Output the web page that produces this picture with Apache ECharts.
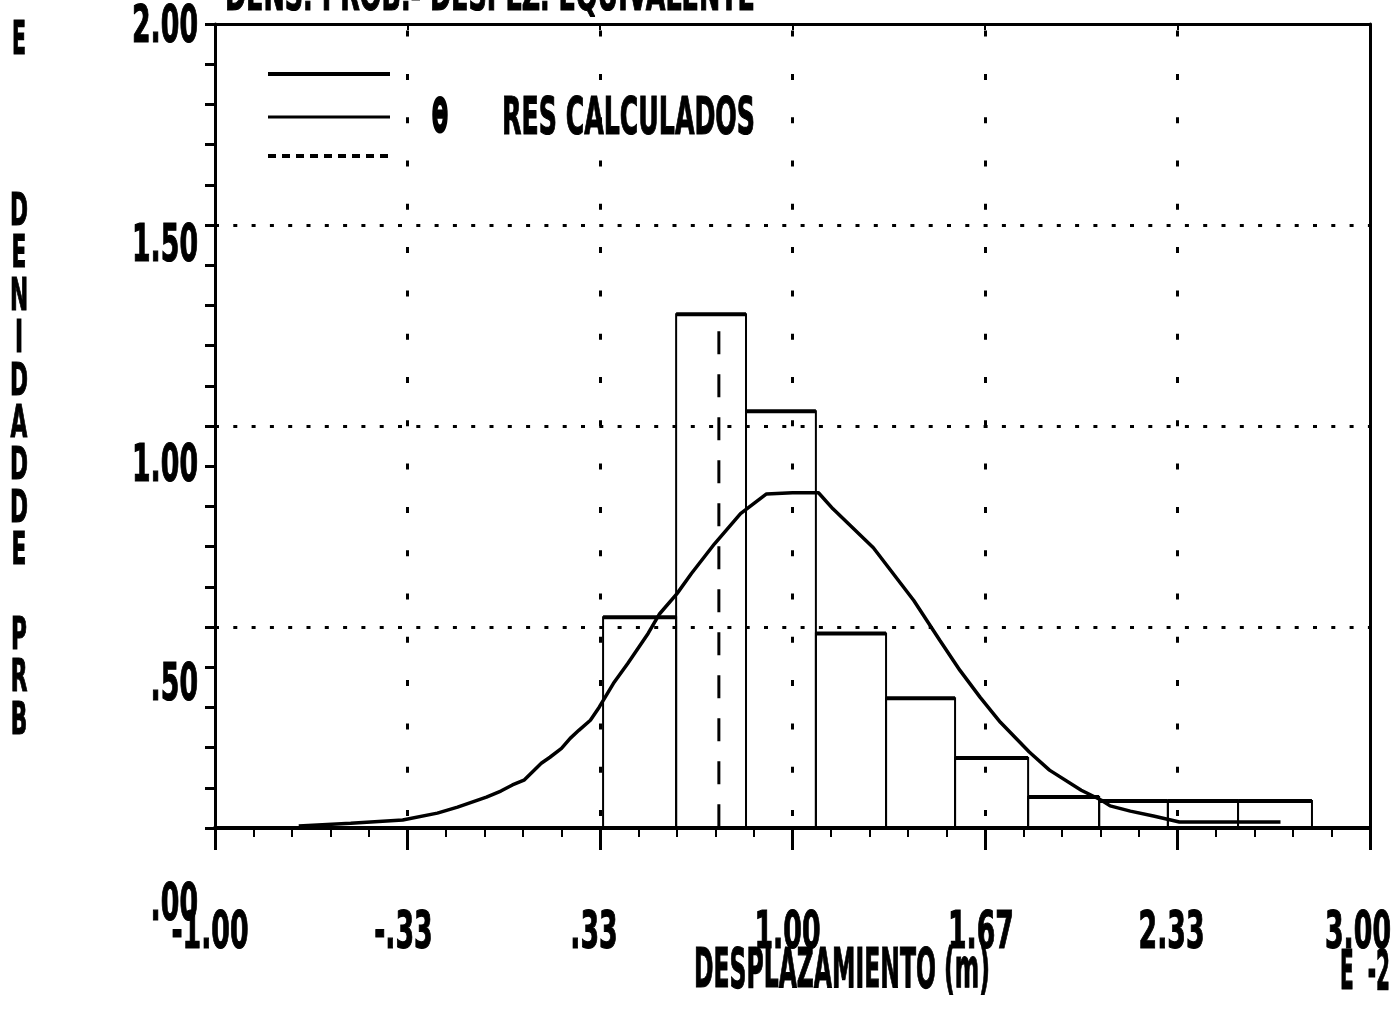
<!DOCTYPE html>
<html>
<head>
<meta charset="utf-8">
<title>Densidad de probabilidad - desplazamiento</title>
<script src="https://cdn.jsdelivr.net/npm/echarts@6.0.0/dist/echarts.min.js"></script>
<style>
  html, body { margin: 0; padding: 0; background: #fff; }
  #main { width: 1394px; height: 1014px; }
</style>
</head>
<body>
<div id="main"></div>
<script>
// histograma: bordes de clase (E-2 m) y alturas
var binEdges = [0.344, 0.597, 0.839, 1.081, 1.324, 1.563, 1.816, 2.062, 2.300, 2.543, 2.799];
var binHeights = [0.524, 1.278, 1.037, 0.484, 0.323, 0.174, 0.077, 0.067, 0.067, 0.067];

// curva de densidad
var curveX = [-0.71, -0.53, -0.35, -0.23, -0.16, -0.06, -0.01, 0.03, 0.07, 0.13, 0.16, 0.20, 0.23, 0.26,
  0.30, 0.33, 0.38, 0.43, 0.50, 0.54, 0.60, 0.65, 0.73, 0.82, 0.91, 1.00, 1.09, 1.14, 1.28, 1.42,
  1.51, 1.58, 1.65, 1.72, 1.82, 1.89, 2.00, 2.07, 2.10, 2.17, 2.25, 2.34, 2.52, 2.69];
var curveY = [0.005, 0.012, 0.020, 0.037, 0.052, 0.077, 0.092, 0.107, 0.119, 0.161, 0.176, 0.198, 0.223, 0.243,
  0.268, 0.300, 0.360, 0.410, 0.484, 0.533, 0.583, 0.633, 0.707, 0.782, 0.831, 0.834, 0.834, 0.794, 0.697, 0.566,
  0.467, 0.392, 0.325, 0.263, 0.189, 0.144, 0.094, 0.069, 0.055, 0.042, 0.030, 0.015, 0.015, 0.015];

// linea vertical discontinua (media)
var meanX = 0.745;
var meanTop = 1.236;

// etiquetas de los ejes
var xTickLabels = ['-1.00', '-.33', '.33', '1.00', '1.67', '2.33', '3.00'];
var yTickLabels = ['.00', '.50', '1.00', '1.50', '2.00'];

var FONT = '"DejaVu Sans", "Liberation Sans", sans-serif';
var cv = document.createElement('canvas').getContext('2d');
function textW(s, size) {
  cv.font = 'bold ' + size + 'px ' + FONT;
  return cv.measureText(s).width;
}
function textStyle(s, size, align, weight) {
  return {
    text: s, fill: '#000', stroke: '#000', lineWidth: weight || 1.2,
    font: 'bold ' + size + 'px ' + FONT,
    textAlign: align || 'left', textVerticalAlign: 'middle'
  };
}
// texto estirado para que quepa en una caja (ancho w, altura de mayusculas capH)
function boxText(s, x, y, w, capH, align, weight) {
  var size = capH / 0.73;
  return {
    type: 'text', x: x, y: y, silent: true,
    scaleX: w / textW(s, size),
    style: textStyle(s, size, align, weight)
  };
}

// etiquetas numericas: mismo tamano para todas, "1.00" = 69 px de ancho
var tickSize = 38 / 0.73;
var tickScale = 66 / textW('1.00', tickSize);

var binData = binHeights.map(function (h, i) {
  return [binEdges[i], binEdges[i + 1], h];
});
var curveData = curveX.map(function (x, i) {
  return [x, curveY[i]];
});
var xLabelData = xTickLabels.map(function (s, i) { return [parseFloat(s), i]; });
var yLabelData = yTickLabels.map(function (s, i) { return [-1, parseFloat(s), i]; });

var letterSize = 44;
var letters = 'D\nE\nN\nI\nD\nA\nD\nD\nE\n \nP\nR\nB';

var myChart = echarts.init(document.getElementById('main'));
myChart.setOption({
  animation: false,
  backgroundColor: '#fff',
  grid: [
    { left: 215, right: 24, top: 24, bottom: 186 },
    { left: 215, right: 24, top: 27, bottom: 109 }
  ],
  xAxis: [
    {
      gridIndex: 0, type: 'value', position: 'bottom',
      min: -1, max: 3, interval: 2 / 3,
      axisLine: { onZero: false, lineStyle: { color: '#000', width: 4 } },
      axisTick: { length: 22, lineStyle: { color: '#000', width: 3 } },
      minorTick: { show: true, splitNumber: 5, length: 9, lineStyle: { color: '#000', width: 2 } },
      axisLabel: { show: false },
      splitLine: { show: true, lineStyle: { color: '#000', width: 3, type: [6, 37.3], dashOffset: 36.7 } }
    },
    {
      gridIndex: 0, type: 'value', position: 'top',
      min: -1, max: 3, interval: 2 / 3,
      axisLine: { onZero: false, lineStyle: { color: '#000', width: 3 } },
      axisTick: { inside: true, length: 6, lineStyle: { color: '#000', width: 2 } },
      axisLabel: { show: false },
      splitLine: { show: false }
    },
    { gridIndex: 1, type: 'value', min: -1, max: 3, show: false }
  ],
  yAxis: [
    {
      gridIndex: 0, type: 'value', position: 'left',
      min: 0, max: 2, interval: 0.5,
      axisLine: { show: true, onZero: false, lineStyle: { color: '#000', width: 3 } },
      axisTick: { show: true, length: 10, lineStyle: { color: '#000', width: 3 } },
      minorTick: { show: true, splitNumber: 5, length: 10, lineStyle: { color: '#000', width: 3 } },
      axisLabel: { show: false },
      splitLine: { show: true, lineStyle: { color: '#000', width: 3, type: [4, 14.3] } }
    },
    {
      gridIndex: 0, type: 'value', position: 'right',
      min: 0, max: 2,
      axisLine: { show: true, onZero: false, lineStyle: { color: '#000', width: 3 } },
      axisTick: { show: false }, axisLabel: { show: false }, splitLine: { show: false }
    },
    {
      gridIndex: 1, type: 'value', position: 'left',
      min: 0, max: 2, interval: 0.5,
      axisLine: { show: false }, axisTick: { show: false }, splitLine: { show: false },
      axisLabel: { show: false }
    }
  ],
  series: [
    {
      name: 'histograma', type: 'custom', xAxisIndex: 0, yAxisIndex: 0,
      data: binData, encode: { x: [0, 1], y: 2 },
      renderItem: function (params, api) {
        var a = api.coord([api.value(0), 0]);
        var b = api.coord([api.value(1), api.value(2)]);
        return {
          type: 'group',
          children: [
            { type: 'rect', shape: { x: a[0], y: b[1], width: b[0] - a[0], height: a[1] - b[1] },
              style: { fill: 'none', stroke: '#000', lineWidth: 2 } },
            { type: 'line', shape: { x1: a[0], y1: b[1], x2: b[0], y2: b[1] },
              style: { stroke: '#000', lineWidth: 4 } }
          ]
        };
      },
      z: 3
    },
    {
      name: 'RES CALCULADOS', type: 'line', xAxisIndex: 0, yAxisIndex: 0,
      data: curveData, showSymbol: false, smooth: false,
      lineStyle: { color: '#000', width: 3.5 }, z: 4
    },
    {
      name: 'media', type: 'line', xAxisIndex: 0, yAxisIndex: 0,
      data: [[meanX, meanTop], [meanX, 0]], showSymbol: false,
      lineStyle: { color: '#000', width: 3, type: [23, 20] }, z: 4
    },
    {
      // etiquetas del eje X, altas y estrechas como en el trazador
      name: 'xLabels', type: 'custom', xAxisIndex: 0, yAxisIndex: 0, silent: true,
      data: xLabelData, encode: { x: 0 },
      renderItem: function (params, api) {
        var p = api.coord([api.value(0), 0]);
        var last = api.value(1) === xTickLabels.length - 1;
        return {
          type: 'text', x: last ? 1391 : p[0] - 5, y: p[1] + 106, scaleX: tickScale,
          style: textStyle(xTickLabels[api.value(1)], tickSize, last ? 'right' : 'center')
        };
      }
    },
    {
      // etiquetas del eje Y (escala propia del trazador)
      name: 'yLabels', type: 'custom', xAxisIndex: 2, yAxisIndex: 2, silent: true,
      data: yLabelData, encode: { x: 0, y: 1 },
      renderItem: function (params, api) {
        var p = api.coord([api.value(0), api.value(1)]);
        return {
          type: 'text', x: p[0] - 17, y: p[1] + 1, scaleX: tickScale,
          style: textStyle(yTickLabels[api.value(2)], tickSize, 'right')
        };
      }
    }
  ],
  graphic: [
    boxText('DENS. PROB.- DESPLZ. EQUIVALENTE', 225, -2, 530, 34),
    boxText('E', 19, 42, 14, 34, 'center'),
    {
      type: 'text', x: 19, y: 468, silent: true,
      scaleX: 18 / textW('D', letterSize),
      style: Object.assign(textStyle(letters, letterSize, 'center'), { lineHeight: 42.4 })
    },
    { type: 'line', shape: { x1: 268, y1: 74, x2: 390, y2: 74 }, style: { stroke: '#000', lineWidth: 4 } },
    { type: 'line', shape: { x1: 268, y1: 117, x2: 390, y2: 117 }, style: { stroke: '#000', lineWidth: 3 } },
    { type: 'line', shape: { x1: 268, y1: 156, x2: 390, y2: 156 }, style: { stroke: '#000', lineWidth: 4, lineDash: [8, 6] } },
    boxText('\u0398', 440, 120, 16, 32, 'center', 3),
    boxText('RES CALCULADOS', 502, 120, 253, 38),
    boxText('DESPLAZAMIENTO (m)', 694, 973, 296, 40),
    boxText('E  -2', 1390, 975, 50, 40, 'right')
  ]
});
</script>
</body>
</html>
